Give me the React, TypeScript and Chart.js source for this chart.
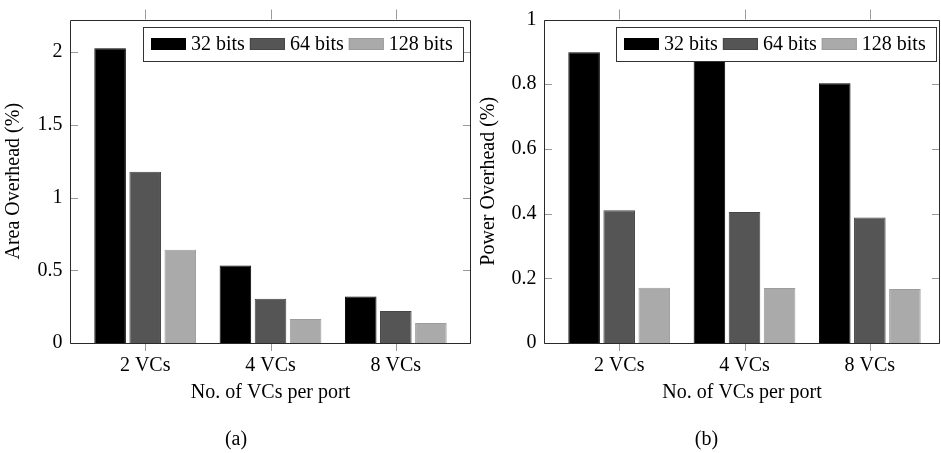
import React, { useEffect, useRef } from 'react';
import { Chart, registerables } from 'chart.js';

Chart.register(...registerables);

const FONT = "'Liberation Serif', 'Times New Roman', serif";

const categories = ['2 VCs', '4 VCs', '8 VCs'];
const seriesLabels = ['32 bits', '64 bits', '128 bits'];
const seriesColors = ['#000000', '#555555', '#aaaaaa'];
const seriesBorders = ['#000000', '#464646', '#9c9c9c'];

const area32 = [2.027, 0.533, 0.319];
const area64 = [1.178, 0.305, 0.22];
const area128 = [0.641, 0.165, 0.138];

const power32 = [0.899, 0.873, 0.803];
const power64 = [0.41, 0.405, 0.388];
const power128 = [0.171, 0.17, 0.167];

const areaTicks = [0, 0.5, 1, 1.5, 2];
const powerTicks = [0, 0.2, 0.4, 0.6, 0.8, 1];

const xTitle = 'No. of VCs per port';

const framePlugin = {
  id: 'frameTicks',
  afterDatasetsDraw(chart: any) {
    const { ctx, chartArea, scales } = chart;
    const { left, right, top, bottom } = chartArea;
    const xs = scales.x;
    const ys = scales.y;
    ctx.save();
    ctx.lineWidth = 1;
    ctx.strokeStyle = '#9a9a9a';
    ctx.beginPath();
    for (const t of xs.ticks) {
      const px = Math.round(xs.getPixelForValue(t.value)) + 0.5;
      ctx.moveTo(px, bottom);
      ctx.lineTo(px, bottom + 8);
      ctx.moveTo(px, top - 10);
      ctx.lineTo(px, top);
    }
    for (const t of ys.ticks) {
      const py = Math.round(ys.getPixelForValue(t.value)) + 0.5;
      ctx.moveTo(left, py);
      ctx.lineTo(left + 8, py);
      ctx.moveTo(right - 8, py);
      ctx.lineTo(right, py);
    }
    ctx.stroke();
    ctx.strokeStyle = '#2a2a2a';
    ctx.beginPath();
    const l = Math.round(left) + 0.5;
    const r = Math.round(right) - 0.5;
    const t = Math.round(top) + 0.5;
    const b = Math.round(bottom) + 0.5;
    ctx.rect(l, t, r - l, b - t);
    ctx.stroke();
    ctx.restore();
  },
};

const legendPlugin = {
  id: 'boxLegend',
  afterDraw(chart: any, _args: any, opts: any) {
    const { ctx, chartArea } = chart;
    const ds = chart.data.datasets;
    ctx.save();
    ctx.font = `20px ${FONT}`;
    const padL = 8;
    const sw = 35;
    const gapSwText = 5;
    const gapItem = 5;
    const padR = 10;
    const widths = ds.map((d: any) => ctx.measureText(d.label).width);
    let total = padL;
    widths.forEach((w: number, i: number) => {
      total += sw + gapSwText + w + (i < widths.length - 1 ? gapItem : 0);
    });
    total += padR;
    const boxR = Math.round(chartArea.right - (opts.rightGap ?? 8));
    const boxL = Math.round(boxR - total);
    const boxT = Math.round(chartArea.top + 7);
    const boxH = 34;
    ctx.fillStyle = '#ffffff';
    ctx.fillRect(boxL, boxT, boxR - boxL, boxH);
    ctx.strokeStyle = '#333333';
    ctx.lineWidth = 1;
    ctx.strokeRect(boxL + 0.5, boxT + 0.5, boxR - boxL, boxH);
    let x = boxL + padL;
    const cy = boxT + boxH / 2;
    ds.forEach((d: any, i: number) => {
      ctx.fillStyle = d.backgroundColor;
      ctx.fillRect(x, Math.round(cy - 6), sw, 12);
      ctx.strokeStyle = d.borderColor;
      ctx.strokeRect(x + 0.5, Math.round(cy - 6) + 0.5, sw - 1, 11);
      x += sw + gapSwText;
      ctx.fillStyle = '#000000';
      ctx.textBaseline = 'middle';
      ctx.textAlign = 'left';
      ctx.fillText(d.label, x, cy + 1);
      x += widths[i] + gapItem;
    });
    ctx.restore();
  },
};

function makeConfig(p: {
  series: number[][];
  yMax: number;
  yTicks: number[];
  yTitle: string;
  xMax: number;
  yAxisWidth: number;
  yTitlePad: number;
  legendGap: number;
}): any {
  return {
    type: 'bar',
    data: {
      datasets: p.series.map((vals, si) => ({
        label: seriesLabels[si],
        data: categories.map((_, i) => ({ x: i, y: vals[i] })),
        backgroundColor: seriesColors[si],
        borderColor: seriesBorders[si],
        borderWidth: 1,
        barPercentage: 0.9,
        categoryPercentage: 0.84,
      })),
    },
    options: {
      responsive: false,
      animation: false,
      layout: { padding: { left: 0, right: 1, top: 10, bottom: 0 } },
      plugins: {
        legend: { display: false },
        tooltip: { enabled: false },
        boxLegend: { rightGap: p.legendGap },
      },
      scales: {
        x: {
          type: 'linear',
          min: -0.6,
          max: p.xMax,
          offset: false,
          afterBuildTicks: (s: any) => {
            s.ticks = categories.map((_, i) => ({ value: i }));
          },
          afterFit: (s: any) => {
            s.height = 110;
          },
          grid: { display: false, drawTicks: false },
          border: { display: false },
          ticks: {
            autoSkip: false,
            maxRotation: 0,
            padding: 11,
            color: '#000',
            font: { family: FONT, size: 20 },
            callback: (v: number) => categories[v] ?? '',
          },
          title: {
            display: true,
            text: xTitle,
            color: '#000',
            font: { family: FONT, size: 20 },
            padding: { top: 0, bottom: 48 },
          },
        },
        y: {
          type: 'linear',
          min: 0,
          max: p.yMax,
          afterBuildTicks: (s: any) => {
            s.ticks = p.yTicks.map((v) => ({ value: v }));
          },
          afterFit: (s: any) => {
            s.width = p.yAxisWidth;
          },
          grid: { display: false, drawTicks: false },
          border: { display: false },
          ticks: {
            padding: 7.5,
            color: '#000',
            font: { family: FONT, size: 20 },
            callback: (v: number) => String(v),
          },
          title: {
            display: true,
            text: p.yTitle,
            color: '#000',
            font: { family: FONT, size: 20 },
            padding: { top: p.yTitlePad, bottom: 0 },
          },
        },
      },
    },
    plugins: [framePlugin, legendPlugin],
  };
}

function Panel(props: { config: any; left: number; width: number; height: number; caption: string }) {
  const ref = useRef<HTMLCanvasElement>(null);
  useEffect(() => {
    const chart = new Chart(ref.current as HTMLCanvasElement, props.config);
    return () => chart.destroy();
  }, []);
  return (
    <>
      <canvas
        ref={ref}
        width={props.width}
        height={props.height}
        style={{ position: 'absolute', left: props.left, top: 0, width: props.width, height: props.height, display: 'block' }}
      />
      <div
        style={{
          position: 'absolute',
          left: props.left,
          top: 427,
          width: props.width,
          textAlign: 'center',
          fontFamily: FONT,
          fontSize: 20,
          lineHeight: '22px',
          color: '#000',
        }}
      >
        {props.caption}
      </div>
    </>
  );
}

export default function App() {
  const areaConfig = makeConfig({
    series: [area32, area64, area128],
    yMax: 2.225,
    yTicks: areaTicks,
    yTitle: 'Area Overhead (%)',
    xMax: 2.6,
    yAxisWidth: 70,
    yTitlePad: 2,
    legendGap: 8,
  });
  const powerConfig = makeConfig({
    series: [power32, power64, power128],
    yMax: 1,
    yTicks: powerTicks,
    yTitle: 'Power Overhead (%)',
    xMax: 2.56,
    yAxisWidth: 72,
    yTitlePad: 4.3,
    legendGap: 4,
  });
  return (
    <div style={{ position: 'absolute', left: 0, top: 0, width: 941, height: 453, background: '#fff', overflow: 'hidden' }}>
      <Panel config={areaConfig} left={0} width={472} height={453} caption="(a)" />
      <Panel config={powerConfig} left={472} width={469} height={453} caption="(b)" />
    </div>
  );
}
